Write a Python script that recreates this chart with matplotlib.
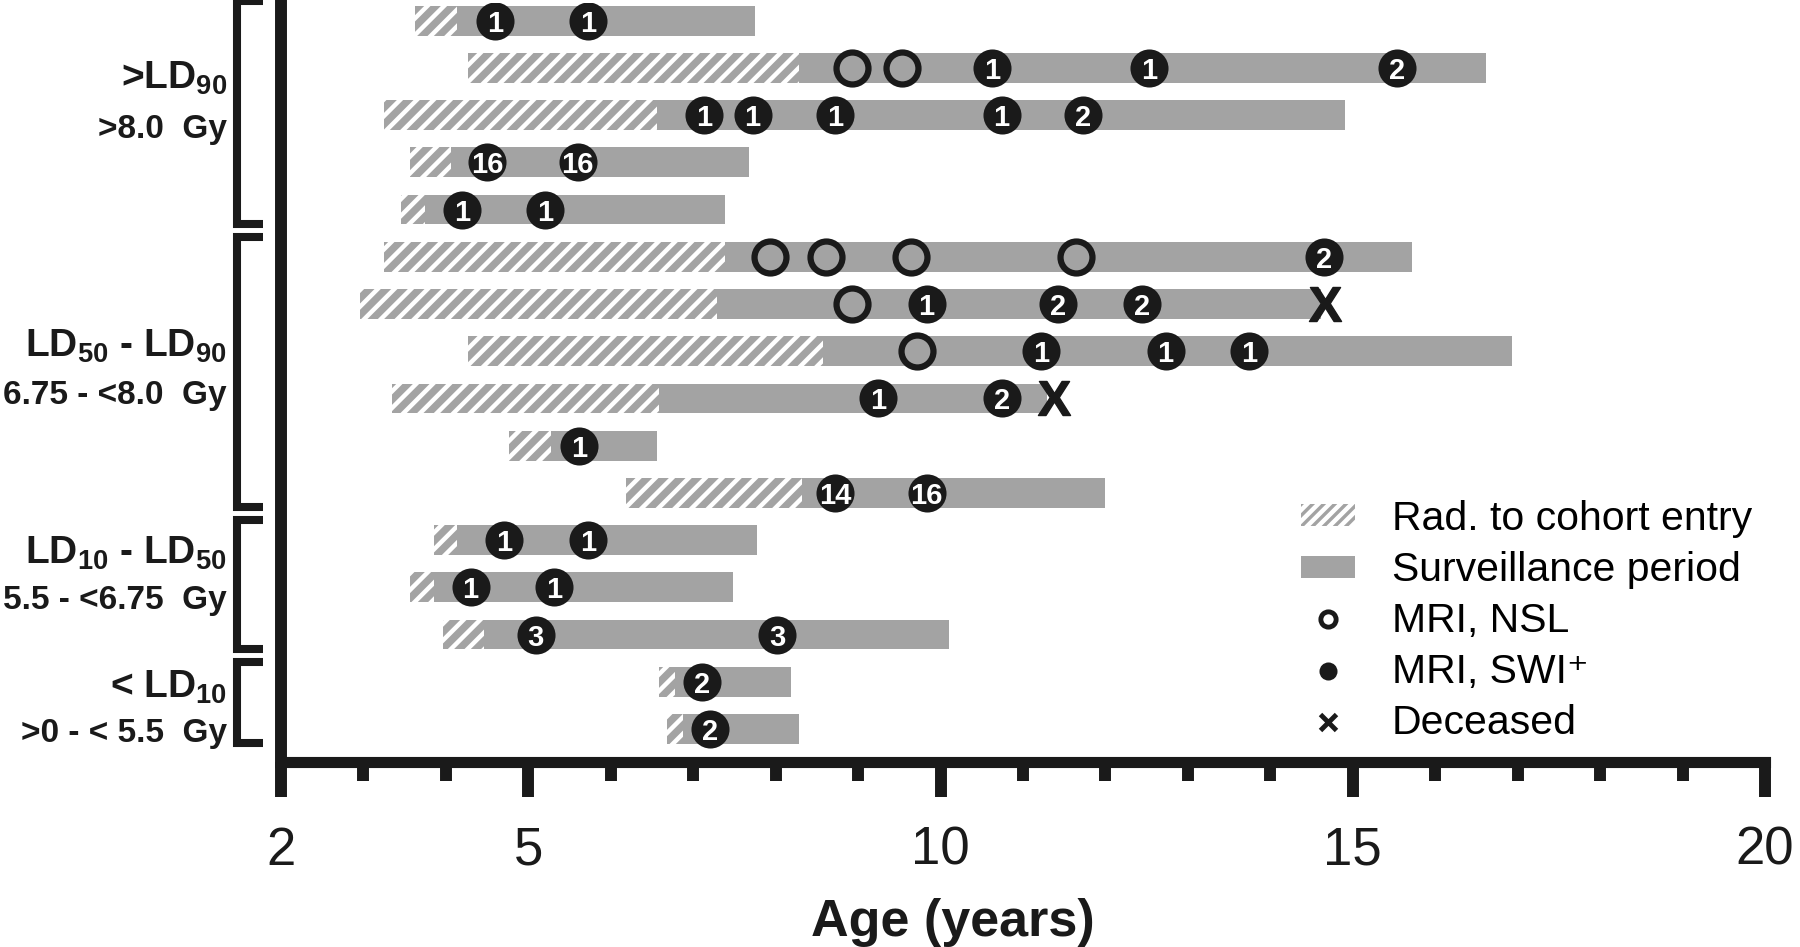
import matplotlib
matplotlib.use('Agg')
import matplotlib.pyplot as plt
import numpy as np
from matplotlib.patches import Patch
from matplotlib.lines import Line2D
from matplotlib.transforms import blended_transform_factory

plt.rcParams['font.family'] = ['Liberation Sans', 'DejaVu Sans']
plt.rcParams['hatch.linewidth'] = 3.2
plt.rcParams['mathtext.fontset'] = 'custom'
plt.rcParams['mathtext.rm'] = 'Liberation Sans'
plt.rcParams['mathtext.bf'] = 'Liberation Sans:bold'

# ---------------- data (one row per subject, top to bottom) ----------------
rad_age   = [3.63, 4.27, 3.25, 3.56, 3.46, 3.25, 2.96, 4.27, 3.35, 4.77, 6.19, 3.86, 3.56, 3.96, 6.58, 6.68]
entry_age = [4.13, 8.28, 6.56, 4.06, 3.75, 7.38, 7.29, 8.58, 6.58, 5.27, 8.32, 4.14, 3.85, 4.46, 6.78, 6.88]
end_age   = [7.75, 16.62, 14.91, 7.68, 7.38, 15.72, 14.62, 16.93, 11.29, 6.56, 11.99, 7.77, 7.48, 10.10, 8.18, 8.28]

nsl_row = [1, 1, 5, 5, 5, 5, 6, 7]
nsl_age = [8.92, 9.53, 7.93, 8.61, 9.64, 11.64, 8.92, 9.71]

swi_row = [0, 0,
           1, 1, 1,
           2, 2, 2, 2, 2,
           3, 3,
           4, 4,
           5,
           6, 6, 6,
           7, 7, 7,
           8, 8,
           9,
           10, 10,
           11, 11,
           12, 12,
           13, 13,
           14,
           15]
swi_age = [4.60, 5.72,
           10.63, 12.53, 15.54,
           7.13, 7.72, 8.72, 10.74, 11.73,
           4.50, 5.60,
           4.20, 5.20,
           14.65,
           9.83, 11.43, 12.44,
           11.22, 12.73, 13.74,
           9.24, 10.74,
           5.62,
           8.72, 9.83,
           4.71, 5.72,
           4.30, 5.31,
           5.09, 8.02,
           7.11,
           7.20]
swi_count = [1, 1,
             1, 1, 2,
             1, 1, 1, 1, 2,
             16, 16,
             1, 1,
             2,
             1, 2, 2,
             1, 1, 1,
             1, 2,
             1,
             14, 16,
             1, 1,
             1, 1,
             3, 3,
             2,
             2]

death_row = [6, 8]
death_age = [14.66, 11.38]

group_first = [0, 5, 11, 14]
group_last  = [4, 10, 13, 15]
group_title = [r'>LD$_{\mathbf{90}}$', r'LD$_{\mathbf{50}}$ - LD$_{\mathbf{90}}$',
               r'LD$_{\mathbf{10}}$ - LD$_{\mathbf{50}}$', r'< LD$_{\mathbf{10}}$']
group_dose  = ['>8.0  Gy', '6.75 - <8.0  Gy', '5.5 - <6.75  Gy', '>0 - < 5.5  Gy']

x_major = [2, 5, 10, 15, 20]
x_minor = list(range(2, 21))

legend_labels = ['Rad. to cohort entry', 'Surveillance period', 'MRI, NSL',
                 'MRI, SWI\u207a', 'Deceased']

# ---------------- layout ----------------
W, H = 1800, 947
GRAY = '#a3a3a3'
BLACK = '#1a1a1a'

fig = plt.figure(figsize=(W / 100, H / 100), dpi=100)
ax = fig.add_axes([281 / W, 1 - 762 / H, 1484 / W, (762 - 3) / H])
ax.set_xlim(2, 20)
ax.set_ylim(15.7, -0.375)

rows = np.arange(len(rad_age))
rad = np.array(rad_age)
ent = np.array(entry_age)
end = np.array(end_age)
bar_h = 0.63

ax.barh(rows, ent - rad, left=rad, height=bar_h, color=GRAY, edgecolor='white',
        hatch='//', linewidth=0, zorder=2)
ax.barh(rows, end - ent, left=ent, height=bar_h, color=GRAY, linewidth=0, zorder=2)

# markers
ax.plot(nsl_age, nsl_row, ls='none', marker='o', ms=23, mfc='none', mec=BLACK,
        mew=4.5, zorder=4)
ax.plot(swi_age, swi_row, ls='none', marker='o', ms=27.4, mfc=BLACK, mec='none',
        zorder=4)
for xv, yv, n in zip(swi_age, swi_row, swi_count):
    ax.text(xv, yv, str(n), color='white', fontsize=21, fontweight='bold',
            ha='center', va='center_baseline', zorder=5)
ax.plot(death_age, death_row, ls='none', marker=r'$\mathbf{X}$', ms=24.5,
        color=BLACK, mec=BLACK, mfc=BLACK, zorder=4)

# axes styling
for s in ['top', 'right']:
    ax.spines[s].set_visible(False)
ax.spines['left'].set_linewidth(8.6)
ax.spines['bottom'].set_linewidth(8.0)
ax.spines['left'].set_color(BLACK)
ax.spines['bottom'].set_color(BLACK)
ax.set_yticks([])
ax.set_xticks(x_major)
ax.set_xticks(x_minor, minor=True)
ax.set_xticklabels([str(v) for v in x_major])
ax.tick_params(axis='x', which='major', length=25, width=8.6, direction='out',
               labelsize=38, pad=21, color=BLACK, labelcolor=BLACK)
ax.tick_params(axis='x', which='minor', length=14, width=8.6, direction='out',
               color=BLACK)

# group brackets and labels
trans = blended_transform_factory(ax.transAxes, ax.transData)
bx0 = (237 - 281) / 1484
bx1 = (263 - 281) / 1484
lx = (227 - 281) / 1484
title_off = [1.43, 2.11, 0.50, 0.34]
dose_off = [2.48, 3.11, 1.47, 1.27]
for i in range(len(group_first)):
    y0 = group_first[i] - 0.42
    y1 = group_last[i] + 0.3
    ax.plot([bx1, bx0, bx0, bx1], [y0, y0, y1, y1], transform=trans, color=BLACK,
            lw=5.8, clip_on=False, solid_joinstyle='miter', solid_capstyle='butt')
    ax.text(lx, group_first[i] + title_off[i], group_title[i], transform=trans,
            ha='right', va='baseline', fontsize=28, fontweight='bold', color=BLACK)
    ax.text(lx, group_first[i] + dose_off[i], group_dose[i], transform=trans,
            ha='right', va='baseline', fontsize=24, fontweight='bold', color=BLACK)

fig.text(953 / W, 1 - 936 / H, 'Age (years)', ha='center', va='baseline',
         fontsize=37.5, fontweight='bold', color=BLACK)

handles = [
    Patch(facecolor=GRAY, edgecolor='white', hatch='///', linewidth=0),
    Patch(facecolor=GRAY, linewidth=0),
    Line2D([], [], ls='none', marker='o', ms=11, mfc='none', mec=BLACK, mew=3.5),
    Line2D([], [], ls='none', marker='o', ms=13, mfc=BLACK, mec='none'),
    Line2D([], [], ls='none', marker='x', ms=11, mec=BLACK, mew=3.5),
]
fig.legend(handles, legend_labels, loc='upper left',
           bbox_to_anchor=(1301 / W, 1 - 500 / H), frameon=False, fontsize=29.5,
           handlelength=1.32, handleheight=0.45, handletextpad=0.9,
           labelspacing=0.32, borderpad=0, borderaxespad=0)

fig.savefig('out.png', dpi=100)
